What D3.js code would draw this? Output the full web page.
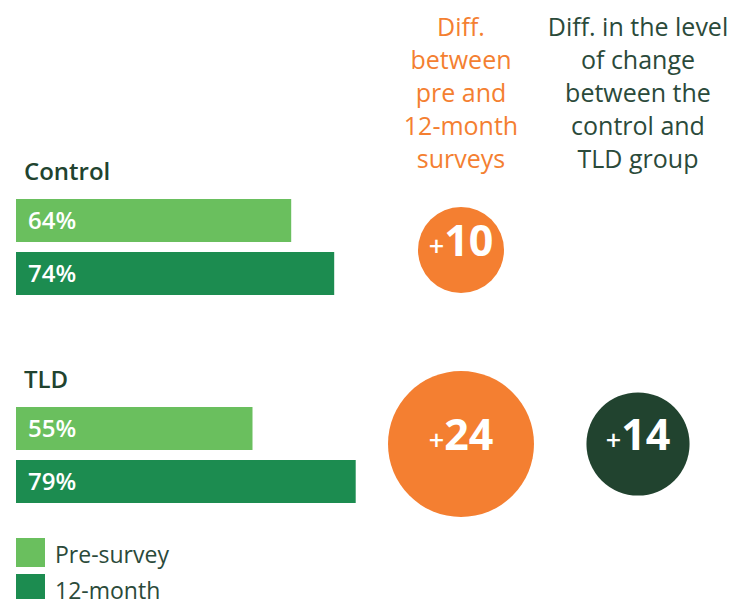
<!DOCTYPE html>
<html>
<head>
<meta charset="utf-8">
<script src="https://cdn.jsdelivr.net/npm/d3@7"></script>
<style>
  body { margin: 0; background: #fff; }
  svg { font-family: "Open Sans", Lato, sans-serif; }
</style>
</head>
<body>
<svg id="chart"></svg>
<script>
// Data
const groups = ["Control", "TLD"];
const surveys = ["Pre-survey", "12-month"];
const preValues = [64, 55];
const monthValues = [74, 79];
const diffValues = [10, 24];
const levelChange = 14;
const diffHeader = ["Diff.", "between", "pre and", "12-month", "surveys"];
const levelHeader = ["Diff. in the level", "of change", "between the", "control and", "TLD group"];

const width = 735, height = 599;
const colors = { pre: "#6abf5e", post: "#1c8c50", orange: "#f47f31", dark: "#21432f" };

const svg = d3.select("#chart")
    .attr("width", width)
    .attr("height", height);

// Scales
const x = d3.scaleLinear().domain([0, 100]).range([16, 446]);
const groupY = d3.scalePoint().domain(groups).range([199, 407]);
const inner = d3.scaleBand().domain(surveys).range([0, 96]).paddingInner(0.1887);
const colX = d3.scalePoint().domain(["diff", "level"]).range([461, 638]);
const circleY = d3.scalePoint().domain(groups).range([250, 444]);
const r = d3.scaleLinear().domain([10, 24]).range([43, 73]);

const rows = groups.map((g, i) => ({
    group: g,
    bars: [
        { survey: surveys[0], value: preValues[i], color: colors.pre },
        { survey: surveys[1], value: monthValues[i], color: colors.post }
    ],
    diff: diffValues[i]
}));

// Group blocks
const block = svg.selectAll(".group")
    .data(rows)
    .enter().append("g")
    .attr("class", "group")
    .attr("transform", d => `translate(0,${groupY(d.group)})`);

block.append("text")
    .attr("x", 24)
    .attr("y", -19)
    .style("font-size", "24px")
    .style("font-weight", "600")
    .style("fill", colors.dark)
    .text(d => d.group);

const bar = block.selectAll(".bar")
    .data(d => d.bars)
    .enter().append("g")
    .attr("class", "bar");

bar.append("rect")
    .attr("x", x(0))
    .attr("y", d => inner(d.survey))
    .attr("width", d => x(d.value) - x(0))
    .attr("height", inner.bandwidth())
    .style("fill", d => d.color);

bar.append("text")
    .attr("x", x(0) + 12)
    .attr("y", d => inner(d.survey) + inner.bandwidth() / 2)
    .attr("dy", "0.36em")
    .style("font-size", "24px")
    .style("font-weight", "600")
    .style("fill", "#fff")
    .text(d => d.value + "%");

// Circles
function bubble(cx, cy, value, fill) {
    const g = svg.append("g").attr("transform", `translate(${cx},${cy})`);
    g.append("circle").attr("r", r(value)).style("fill", fill);
    const t = g.append("text")
        .attr("text-anchor", "middle")
        .attr("dy", "0.36em")
        .style("fill", "#fff");
    t.append("tspan").style("font-size", "27px").style("font-weight", "600").text("+");
    t.append("tspan").style("font-size", "43px").style("font-weight", "bold").text(value);
}

rows.forEach(d => bubble(colX("diff"), circleY(d.group), d.diff, colors.orange));
bubble(colX("level"), circleY("TLD"), levelChange, colors.dark);

// Headers
function header(lines, cx, fill) {
    svg.append("g").selectAll("text")
        .data(lines)
        .enter().append("text")
        .attr("x", cx)
        .attr("y", (d, i) => 36 + i * 33)
        .attr("text-anchor", "middle")
        .style("font-size", "25px")
        .style("fill", fill)
        .text(d => d);
}
header(diffHeader, colX("diff"), colors.orange);
header(levelHeader, colX("level"), "#2b4a3a");

// Legend
const legend = svg.selectAll(".legend")
    .data([{ name: surveys[0], color: colors.pre }, { name: surveys[1], color: colors.post }])
    .enter().append("g")
    .attr("class", "legend")
    .attr("transform", (d, i) => `translate(16,${538 + i * 36})`);

legend.append("rect")
    .attr("width", 29)
    .attr("height", 29)
    .style("fill", d => d.color);

legend.append("text")
    .attr("x", 39)
    .attr("y", 25)
    .style("font-size", "23px")
    .style("fill", "#2b4a3a")
    .text(d => d.name);
</script>
</body>
</html>
